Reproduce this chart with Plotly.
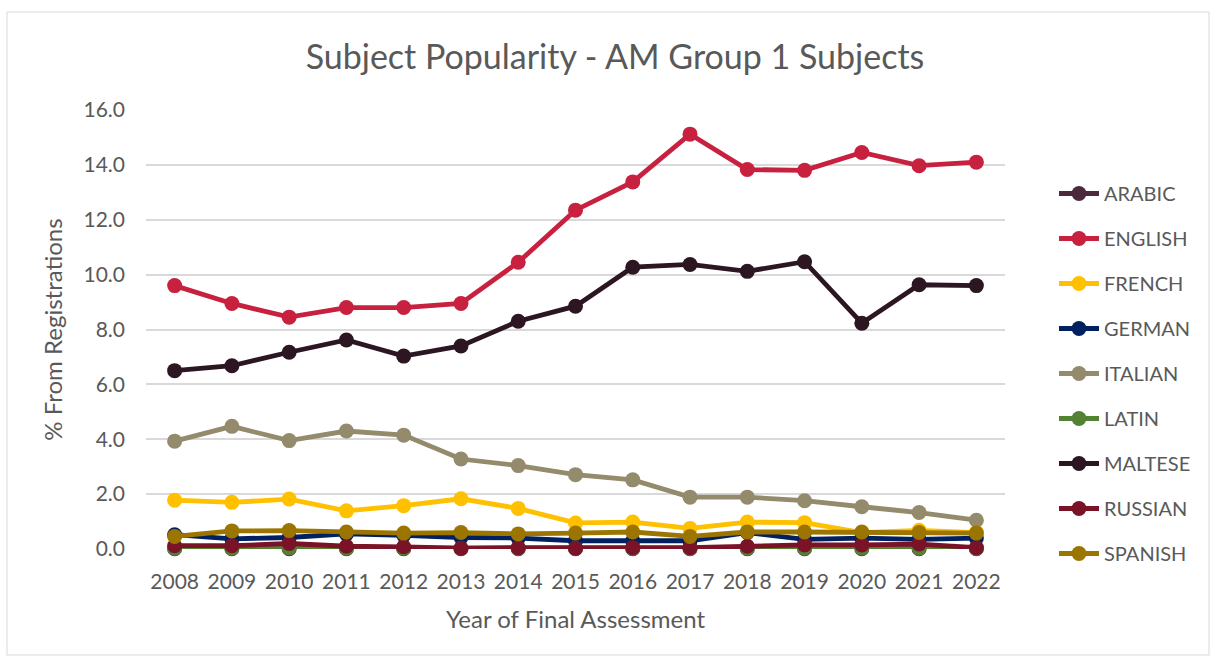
import plotly.graph_objects as go

years = [str(y) for y in range(2008, 2023)]

arabic  = [0.01, 0.01, 0.01, 0.01, 0.01, 0.01, 0.01, 0.01, 0.01, 0.01, 0.01, 0.01, 0.01, 0.01, 0.01]
english = [9.60, 8.95, 8.45, 8.80, 8.80, 8.95, 10.45, 12.35, 13.38, 15.12, 13.83, 13.80, 14.45, 13.97, 14.10]
french  = [1.78, 1.70, 1.82, 1.39, 1.58, 1.83, 1.48, 0.95, 0.98, 0.75, 0.98, 0.96, 0.60, 0.68, 0.60]
german  = [0.52, 0.37, 0.42, 0.55, 0.50, 0.42, 0.40, 0.30, 0.30, 0.30, 0.60, 0.35, 0.40, 0.35, 0.40]
italian = [3.93, 4.47, 3.95, 4.30, 4.15, 3.28, 3.04, 2.71, 2.52, 1.89, 1.89, 1.76, 1.54, 1.33, 1.05]
latin   = [0.03, 0.03, 0.04, 0.03, 0.03, 0.02, 0.03, 0.02, 0.02, 0.02, 0.03, 0.03, 0.03, 0.03, 0.03]
maltese = [6.50, 6.68, 7.17, 7.62, 7.03, 7.40, 8.30, 8.85, 10.27, 10.37, 10.12, 10.47, 8.23, 9.63, 9.60]
russian = [0.12, 0.12, 0.20, 0.10, 0.08, 0.03, 0.05, 0.03, 0.05, 0.05, 0.10, 0.15, 0.15, 0.18, 0.05]
spanish = [0.46, 0.66, 0.67, 0.62, 0.58, 0.60, 0.55, 0.58, 0.62, 0.46, 0.62, 0.62, 0.62, 0.60, 0.58]

series = [
    ("ARABIC", arabic, "#4B2A3E"),
    ("ENGLISH", english, "#C8203F"),
    ("FRENCH", french, "#FFC000"),
    ("GERMAN", german, "#002060"),
    ("ITALIAN", italian, "#948A6C"),
    ("LATIN", latin, "#548235"),
    ("MALTESE", maltese, "#2B1622"),
    ("RUSSIAN", russian, "#7A1328"),
    ("SPANISH", spanish, "#9C7500"),
]

FONT = "Lato, 'Open Sans', sans-serif"
GREY = "#595959"

fig = go.Figure()
for name, vals, col in series:
    fig.add_trace(go.Scatter(
        x=years, y=vals, name=name, mode="lines+markers",
        line=dict(color=col, width=4.8),
        marker=dict(color=col, size=15),
        legendgroup=name, cliponaxis=False,
    ))

L, R, T, B = 146, 212, 110, 111
PW, PH = 1217 - L - R, 660 - T - B

fig.update_layout(
    width=1217, height=660,
    paper_bgcolor="white", plot_bgcolor="white",
    margin=dict(l=L, r=R, t=T, b=B, autoexpand=False),
    title=dict(text="Subject Popularity - AM Group 1 Subjects", x=615 / 1217, xanchor="center",
               xref="container", yref="container",
               y=1 - 57 / 660, yanchor="middle", font=dict(family=FONT, size=34, color=GREY)),
    font=dict(family=FONT, color=GREY),
    legend=dict(xref="container", yref="container", x=1054 / 1217, xanchor="left",
                y=1 - 174 / 660, yanchor="top", maxheight=600,
                font=dict(family=FONT, size=20, color=GREY),
                tracegroupgap=16, itemwidth=40),
    xaxis=dict(type="category", range=[-0.5, len(years) - 0.5], autorange=False,
               showgrid=False, zeroline=False, showline=False,
               tickfont=dict(size=21, color=GREY), ticks="", automargin=False,
               ticklabelstandoff=18,
               title=dict(text="Year of Final Assessment", font=dict(size=24, color=GREY), standoff=19)),
    yaxis=dict(range=[0, 16], dtick=2, tickformat=".1f", showgrid=True, gridcolor="#D9D9D9",
               gridwidth=1.5, zeroline=False, showline=False, ticks="", automargin=False,
               ticklabelstandoff=20,
               tickfont=dict(size=21, color=GREY),
               title=dict(text="% From Registrations", font=dict(size=24, color=GREY), standoff=14)),
    shapes=[dict(type="rect", xref="paper", yref="paper",
                 x0=(7 - L) / PW, x1=(1209 - L) / PW, y0=-(655 - 549) / PH, y1=(549 - 12) / PH,
                 line=dict(color="#D9D9D9", width=1), layer="below")],
)

fig.write_html("out.html", config={"displayModeBar": False},
               post_script="document.body.style.margin='0px';")
